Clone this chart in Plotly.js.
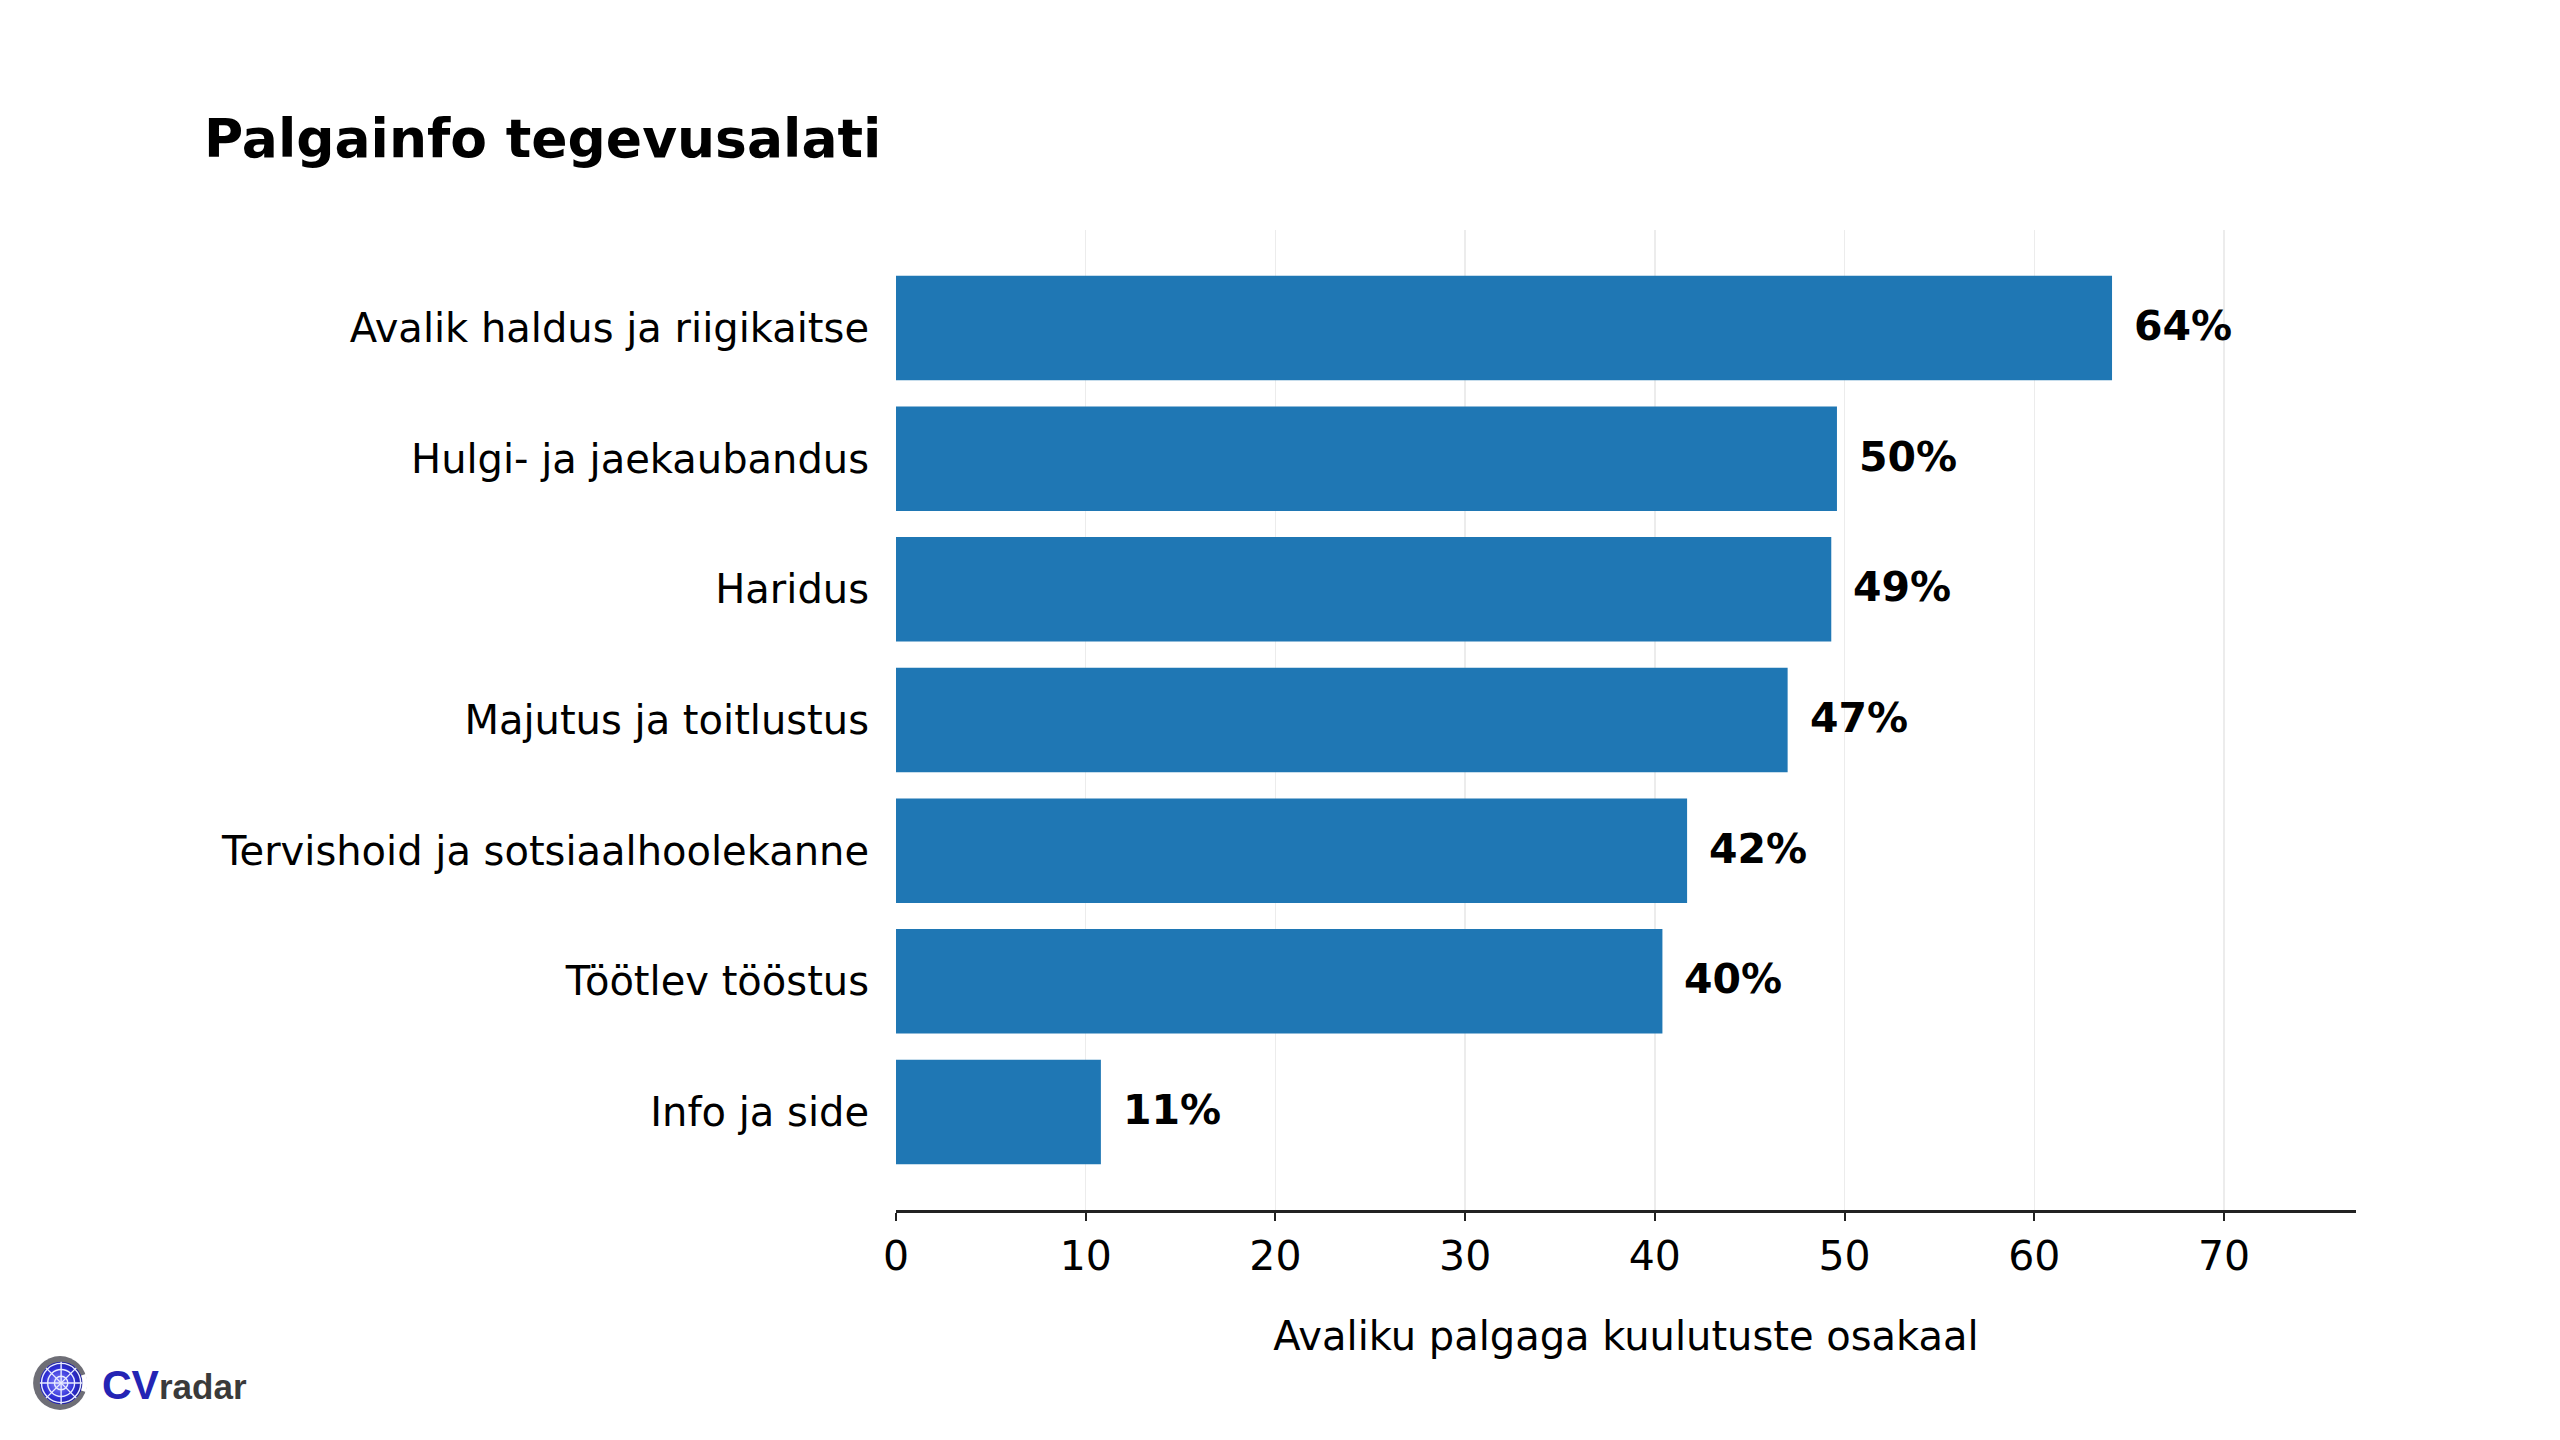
<!DOCTYPE html>
<html>
<head>
<meta charset="utf-8">
<script src="https://cdn.plot.ly/plotly-3.0.1.min.js"></script>
<style>
  html, body { margin: 0; padding: 0; background: #fff; }
  #graphDiv { width: 2560px; height: 1440px; }
</style>
</head>
<body>
<div id="graphDiv"></div>
<script>
// tegevusalad, ylevalt alla
var categories = [
  'Avalik haldus ja riigikaitse',
  'Hulgi- ja jaekaubandus',
  'Haridus',
  'Majutus ja toitlustus',
  'Tervishoid ja sotsiaalhoolekanne',
  'Töötlev tööstus',
  'Info ja side'
];
var shares = [64.1, 49.6, 49.3, 47.0, 41.7, 40.4, 10.8];
var xTicks = [0, 10, 20, 30, 40, 50, 60, 70];

var font = 'DejaVu Sans, Verdana, sans-serif';

var trace1 = {
  type: 'bar',
  orientation: 'h',
  x: shares,
  y: categories,
  marker: {color: '#1f77b4', line: {width: 0}},
  hoverinfo: 'none'
};

var labels = [];
for (var i = 0; i < shares.length; i++) {
  labels.push({
    x: shares[i],
    y: categories[i],
    xref: 'x',
    yref: 'y',
    text: Math.round(shares[i]) + '%',
    showarrow: false,
    xanchor: 'left',
    yanchor: 'middle',
    xshift: 20,
    yshift: 2,
    font: {family: font, size: 41, color: '#000', weight: 'bold'}
  });
}

// CVradar logo tekst
labels.push({
  xref: 'paper', yref: 'paper',
  x: -896 / 1460 + 100 / 1460, y: -(1401 - 1210) / 980,
  xanchor: 'left', yanchor: 'bottom', showarrow: false,
  text: '<b><span style="color:#2424b4">CV</span><span style="color:#3a3a3a;font-size:35px">radar</span></b>',
  font: {family: 'Liberation Sans, Arial, sans-serif', size: 41},
  yshift: -9
});

var logo = "<svg xmlns='http://www.w3.org/2000/svg' viewBox='0 0 100 100'>" +
  "<defs><radialGradient id='g' cx='0.45' cy='0.5' r='0.6'>" +
  "<stop offset='0' stop-color='#8a8aff'/><stop offset='0.6' stop-color='#2f2fd6'/><stop offset='1' stop-color='#1a1a8a'/>" +
  "</radialGradient></defs>" +
  "<circle cx='50' cy='50' r='48' fill='#6e6e76'/>" +
  "<path d='M96 34 A48 48 0 0 1 96 66 L84 62 A36 36 0 0 0 84 38 Z' fill='#fff'/>" +
  "<circle cx='52' cy='50' r='38' fill='url(#g)'/>" +
  "<g stroke='#e8ecff' stroke-width='2.5' fill='none'>" +
  "<circle cx='52' cy='50' r='12'/><circle cx='52' cy='50' r='24'/><circle cx='52' cy='50' r='35'/>" +
  "<line x1='14' y1='50' x2='90' y2='50'/><line x1='52' y1='12' x2='52' y2='88'/>" +
  "<line x1='25' y1='23' x2='79' y2='77'/><line x1='79' y1='23' x2='25' y2='77'/>" +
  "</g></svg>";

var layout = {
  width: 2560,
  height: 1440,
  paper_bgcolor: '#ffffff',
  plot_bgcolor: '#ffffff',
  showlegend: false,
  bargap: 0.2,
  margin: {l: 896, r: 204, t: 230, b: 230},
  font: {family: font, color: '#000'},
  title: {
    text: '<b>Palgainfo tegevusalati</b>',
    font: {family: font, size: 53.5, color: '#000'},
    xref: 'container', yref: 'container',
    x: 204 / 2560, xanchor: 'left',
    y: 1 - 138 / 1440, yanchor: 'middle'
  },
  xaxis: {
    range: [0, 76.96],
    tickvals: xTicks,
    ticktext: xTicks.map(String),
    ticks: 'outside',
    ticklen: 8,
    tickwidth: 2,
    tickcolor: '#222',
    showline: true,
    linecolor: '#222',
    linewidth: 2.5,
    showgrid: true,
    gridcolor: '#ececec',
    gridwidth: 1.5,
    zeroline: false,
    tickfont: {family: font, size: 41, color: '#000'},
    ticklabelstandoff: 0,
    title: {
      text: 'Avaliku palgaga kuulutuste osakaal',
      font: {family: font, size: 40, color: '#000'},
      standoff: 44
    },
    fixedrange: true
  },
  yaxis: {
    type: 'category',
    range: [6.75, -0.75],
    showline: false,
    showgrid: false,
    zeroline: false,
    ticks: '',
    tickfont: {family: font, size: 40, color: '#000'},
    ticklabelstandoff: 26,
    fixedrange: true
  },
  annotations: labels,
  images: [{
    source: 'data:image/svg+xml;utf8,' + encodeURIComponent(logo),
    xref: 'paper', yref: 'paper',
    x: (32 - 896) / 1460, y: -(1355 - 1210) / 980,
    sizex: 56 / 1460, sizey: 56 / 980,
    xanchor: 'left', yanchor: 'top',
    sizing: 'stretch', layer: 'above'
  }]
};

Plotly.newPlot('graphDiv', [trace1], layout, {displayModeBar: false, staticPlot: true});
</script>
</body>
</html>
